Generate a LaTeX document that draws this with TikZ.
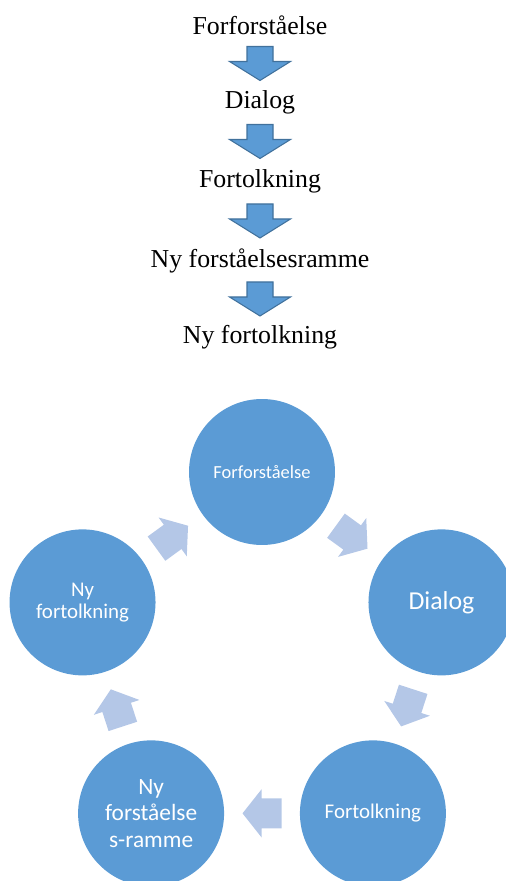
\documentclass[tikz,border=0pt]{standalone}
\usepackage{fontspec}
\setmainfont{Liberation Serif}
\newfontfamily\cfont{Carlito}
\usetikzlibrary{positioning, calc}
\definecolor{cblue}{HTML}{5B9BD5}
\definecolor{cline}{HTML}{41719C}
\definecolor{clight}{HTML}{B4C7E7}
\tikzset{
    lbl/.style={inner sep=0pt, font=\fontsize{14.7}{17}\selectfont},
    bubble/.style={circle, fill=cblue, minimum size=2.92cm, inner sep=0pt, text=white, align=center},
    darr/.style={fill=cblue, draw=cline, line width=0.6pt, line join=miter},
    carr/.style={fill=clight}
}
\newcommand{\fs}[2]{\cfont\fontsize{#1}{#2}\selectfont}

\begin{document}
\begin{tikzpicture}[x=0.02cm, y=0.02cm]
        \useasboundingbox (0,0) rectangle (506,881);
        \clip (0,0) rectangle (506,881);
        % the list
        \begin{scope}
            \node[lbl] (t1) at (260,856) {Forforståelse};
            \node[lbl] (t2) at (260,779) {Dialog};
            \node[lbl] (t3) at (260,700) {Fortolkning};
            \node[lbl] (t4) at (260,620) {Ny forståelsesramme};
            \node[lbl] (t5) at (260,544) {Ny fortolkning};
            \foreach \a/\b in {t1/t2, t2/t3, t3/t4, t4/t5}
                \path[darr] ($(\a)!0.5!(\b)$) ++(-13,17) -- ++(26,0) -- ++(0,-15) -- ++(17.5,0)
                    -- ++(-30.5,-19) -- ++(-30.5,19) -- ++(17.5,0) -- cycle;
        \end{scope}
        % the cycle
        \begin{scope}
            \coordinate (o) at (262,220.3);
            \node[bubble, font=\fs{10.5}{12}] (c1) at ($(o)+(90:188.7)$) {Forforståelse};
            \node[bubble, font=\fs{14.7}{17}] (c2) at ($(o)+(18:188.7)$) {Dialog};
            \node[bubble, font=\fs{11.9}{13.5}] (c3) at ($(o)+(-54:188.7)$) {Fortolkning};
            \node[bubble, font=\fs{13.3}{15.1}] (c4) at ($(o)+(-126:188.7)$) {Ny\\forståelse\\s-ramme};
            \node[bubble, font=\fs{11.9}{12.7}] (c5) at ($(o)+(162:188.7)$) {Ny\\fortolkning};
            \foreach \a/\b/\r in {c1/c2/-36, c2/c3/-108, c3/c4/180, c4/c5/108, c5/c1/36}
                \path[carr, shift={($(\a)!0.5!(\b)$)}, rotate=\r] (-19.5,-15) -- (0.5,-15) -- (0.5,-24)
                    -- (19.5,0) -- (0.5,24) -- (0.5,15) -- (-19.5,15) -- cycle;
        \end{scope}
    \end{tikzpicture}
\end{document}
